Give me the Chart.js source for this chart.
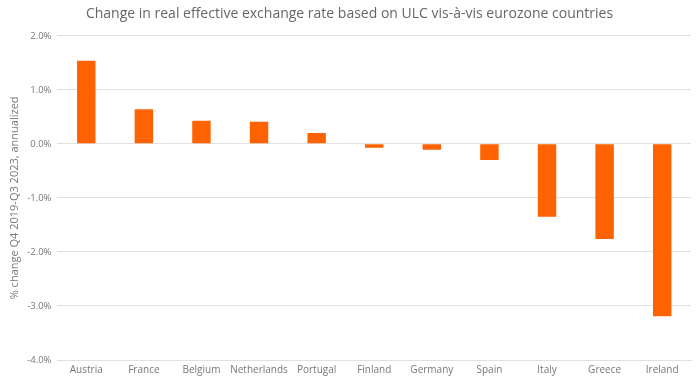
<!DOCTYPE html>
<html>
<head>
<meta charset="utf-8">
<script src="https://cdn.jsdelivr.net/npm/chart.js@4"></script>
<style>
  html, body { margin: 0; padding: 0; background: #fff; }
  #wrap { width: 700px; height: 391px; position: relative; }
</style>
</head>
<body>
<div id="wrap"><canvas id="chart"></canvas></div>
<script>
const countries = ["Austria", "France", "Belgium", "Netherlands", "Portugal", "Finland", "Germany", "Spain", "Italy", "Greece", "Ireland"];
const reerChange = [1.54, 0.64, 0.43, 0.41, 0.20, -0.07, -0.11, -0.30, -1.35, -1.76, -3.19];
const yTicks = [2, 1, 0, -1, -2, -3, -4];

const ctx = document.getElementById("chart");
const myChart = new Chart(ctx, {
  type: "bar",
  data: {
    labels: countries,
    datasets: [
      {
        label: "REER change",
        data: reerChange,
        backgroundColor: "#FF6200",
        borderWidth: 0,
        barPercentage: 0.32,
        categoryPercentage: 1.0,
      },
    ],
  },
  options: {
    responsive: true,
    maintainAspectRatio: false,
    animation: false,
    layout: { padding: { left: 8, right: 9, top: 0, bottom: 11 } },
    plugins: {
      legend: { display: false },
      tooltip: { enabled: false },
      title: {
        display: true,
        text: "Change in real effective exchange rate based on ULC vis-à-vis eurozone countries",
        color: "#666",
        font: { family: "Open Sans", size: 14, weight: "normal" },
        padding: { top: 6, bottom: 13 },
      },
    },
    scales: {
      x: {
        grid: { display: false, drawTicks: false },
        border: { display: true, color: "#e0e0e0" },
        ticks: {
          color: "#777",
          font: { family: "Open Sans", size: 10 },
          padding: 4,
          maxRotation: 0,
          autoSkip: false,
        },
      },
      y: {
        min: -4,
        max: 2,
        afterBuildTicks: (axis) => {
          axis.ticks = yTicks.map((v) => ({ value: v }));
        },
        grid: { color: "#e0e0e0", drawTicks: false },
        border: { display: false },
        ticks: {
          color: "#777",
          font: { family: "Open Sans", size: 9.5 },
          padding: 6,
          callback: (v) => v.toFixed(1) + "%",
        },
        title: {
          display: true,
          text: "% change Q4 2019-Q3 2023, annualized",
          color: "#777",
          font: { family: "Open Sans", size: 11 },
          padding: { top: 0, bottom: 0 },
        },
      },
    },
  },
});
myChart;
</script>
</body>
</html>
